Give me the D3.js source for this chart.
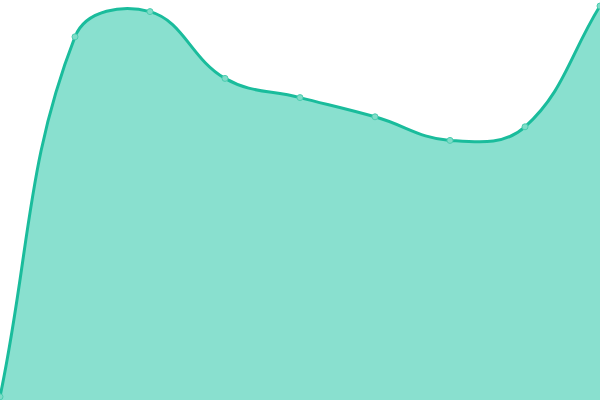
<!DOCTYPE html>
<html>
<head>
<meta charset="utf-8">
<script src="https://cdn.jsdelivr.net/npm/d3@7"></script>
<style>
  html, body { margin: 0; padding: 0; background: #fff; }
  svg { display: block; }
</style>
</head>
<body>
<svg id="chart" width="600" height="400"></svg>
<script>
// data
const labels = ['A', 'B', 'C', 'D', 'E', 'F', 'G', 'H', 'I'];
const values = [0.8, 90.8, 97.1, 80.4, 75.6, 70.8, 64.9, 68.3, 98.5];

const width = 600, height = 400;
const svg = d3.select('#chart');

const x = d3.scalePoint()
    .domain(labels)
    .range([0, width]);

const y = d3.scaleLinear()
    .domain([0, 100])
    .range([height, 0]);

// chart.js style spline (tension .4), as a d3 curve factory
function splineCurve(context) {
  const t = 0.4;
  let pts, line;
  function draw() {
    const n = pts.length;
    if (!n) return;
    const cps = pts.map((p, i) => {
      const prev = pts[i - 1] || p, next = pts[i + 1] || p;
      const d01 = Math.hypot(p[0] - prev[0], p[1] - prev[1]);
      const d12 = Math.hypot(next[0] - p[0], next[1] - p[1]);
      let s01 = d01 / (d01 + d12), s12 = d12 / (d01 + d12);
      if (isNaN(s01)) s01 = 0;
      if (isNaN(s12)) s12 = 0;
      const fa = t * s01, fb = t * s12;
      const cap = c => [Math.max(0, Math.min(width, c[0])), Math.max(0, Math.min(height, c[1]))];
      return {
        prev: cap([p[0] - fa * (next[0] - prev[0]), p[1] - fa * (next[1] - prev[1])]),
        next: cap([p[0] + fb * (next[0] - prev[0]), p[1] + fb * (next[1] - prev[1])])
      };
    });
    if (line) context.lineTo(pts[0][0], pts[0][1]);
    else context.moveTo(pts[0][0], pts[0][1]);
    for (let i = 1; i < n; i++) {
      const a = cps[i - 1].next, b = cps[i].prev;
      context.bezierCurveTo(a[0], a[1], b[0], b[1], pts[i][0], pts[i][1]);
    }
  }
  return {
    areaStart() { line = 0; },
    areaEnd() { line = NaN; },
    lineStart() { pts = []; },
    point(px, py) { pts.push([+px, +py]); },
    lineEnd() {
      draw();
      if (line || (line !== 0 && pts.length === 1)) context.closePath();
      line = 1 - line;
    }
  };
}

const data = labels.map((l, i) => ({ label: l, value: values[i] }));

const area = d3.area()
    .x(d => x(d.label))
    .y0(y(0))
    .y1(d => y(d.value))
    .curve(splineCurve);

const line = d3.line()
    .x(d => x(d.label))
    .y(d => y(d.value))
    .curve(splineCurve);

svg.append('path')
    .datum(data)
    .attr('fill', '#89e0cf')
    .attr('d', area);

svg.append('path')
    .datum(data)
    .attr('fill', 'none')
    .attr('stroke', '#1abc9c')
    .attr('stroke-width', 3)
    .attr('d', line);

// points
svg.append('g')
    .selectAll('circle')
    .data(data)
    .join('circle')
    .attr('cx', d => x(d.label))
    .attr('cy', d => y(d.value))
    .attr('r', 3)
    .attr('fill', '#7fdcc8')
    .attr('stroke', '#4ccdb0')
    .attr('stroke-width', 1);
</script>
</body>
</html>
